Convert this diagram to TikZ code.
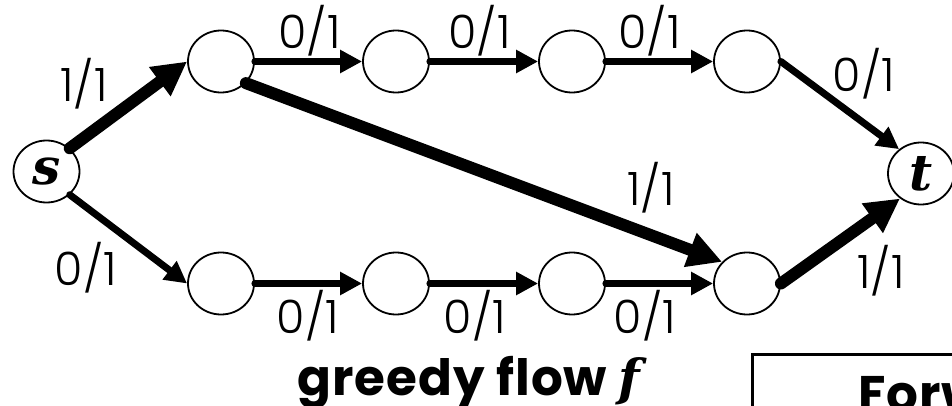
\documentclass[tikz,border=0pt]{standalone}
\usepackage{fontspec}
\setmainfont{Poppins}
\newfontfamily\lightfont{Poppins Light}
\newfontfamily\serifbi{DejaVu Serif}
\usetikzlibrary{arrows.meta,shapes.geometric}
\begin{document}
\begin{tikzpicture}[x=1pt,y=-1pt,
  vtx/.style={ellipse, draw, line width=1.8pt, minimum width=66pt, minimum height=62pt, inner sep=0pt},
  flowzero/.style={line width=7pt, line cap=round, -{Triangle[length=22pt,width=22pt]}},
  flowone/.style={line width=12pt, line cap=round, -{Triangle[length=34pt,width=34pt]}},
  lbl/.style={font=\fontsize{46}{50}\selectfont\lightfont, inner sep=0pt},
  vlbl/.style={font=\fontsize{50}{52}\selectfont\serifbi\bfseries\itshape, inner sep=0pt},
  bigbold/.style={inner sep=0pt, font=\fontsize{50}{52}\selectfont\bfseries\addfontfeature{LetterSpace=2}}]
\useasboundingbox (0,0) rectangle (952,406);
\node[vtx] (s) at (46.5,171.5) {};
\node[vlbl] at (s.center) {s};
\node[vtx] (t) at (921,173.5) {};
\node[vlbl] at (t.center) {t};
\node[vtx] (a1) at (221,61.5) {};
\node[vtx] (a2) at (396,61.5) {};
\node[vtx] (a3) at (572,61.5) {};
\node[vtx] (a4) at (747,61.5) {};
\node[vtx] (b1) at (221,283.5) {};
\node[vtx] (b2) at (396,283.5) {};
\node[vtx] (b3) at (572,283.5) {};
\node[vtx] (b4) at (747,283.5) {};
\draw[flowone] (s.45) -- (a1.west);
\draw[flowzero] (s.-45) -- (b1.west);
\draw[flowzero] (a1.east) -- (a2.west);
\draw[flowzero] (a2.east) -- (a3.west);
\draw[flowzero] (a3.east) -- (a4.west);
\draw[flowzero] (b1.east) -- (b2.west);
\draw[flowzero] (b2.east) -- (b3.west);
\draw[flowzero] (b3.east) -- (b4.west);
\draw[flowone] (a1.-41) -- (b4.139);
\draw[flowzero] (a4.east) -- (t.132);
\draw[flowone] (b4.east) -- (t.230);
\node[lbl] (l1) at (84,84) {1/1};
\node[lbl] (l2) at (86,268) {0/1};
\node[lbl] (l3) at (309.5,31) {0/1};
\node[lbl] (l4) at (479.5,31) {0/1};
\node[lbl] (l5) at (649.5,31) {0/1};
\node[lbl] (l6) at (308,316) {0/1};
\node[lbl] (l7) at (475,316) {0/1};
\node[lbl] (l8) at (645,316) {0/1};
\node[lbl] (l9) at (864,74) {0/1};
\node[lbl] (l10) at (651,188) {1/1};
\node[lbl] (l11) at (881,271) {1/1};
\node[bigbold, anchor=base west] (cap) at (297,395) {greedy flow {\serifbi\bfseries\itshape f}};
\begin{scope}
\clip (0,0) rectangle (952,406);
\draw[line width=3pt] (752,354) rectangle (1000,460);
\node[bigbold, anchor=base west] (fw) at (858,411) {Forw};
\end{scope}
\end{tikzpicture}
\end{document}
